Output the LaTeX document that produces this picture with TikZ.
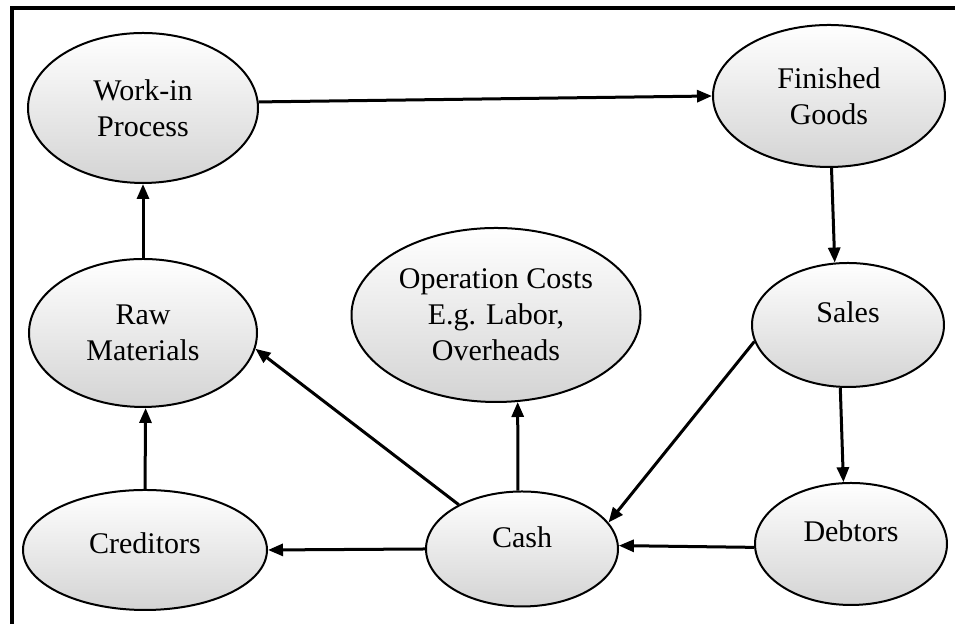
\documentclass[tikz,border=0pt]{standalone}
\usepackage{fontspec}
\setmainfont{Liberation Serif}
\usetikzlibrary{shapes,positioning,arrows.meta}

\begin{document}
\begin{tikzpicture}[
    x=0.5pt,
    y=0.5pt,
    >={Triangle[length=7.5pt,width=6pt]},
    ell/.style ={
        ellipse,
        draw=black,
        line width=1pt,
        top color=white,
        middle color=white,
        bottom color=black!17,
        inner sep=0pt,
        align=center,
        font=\fontsize{15}{18}\selectfont
    },
    lift/.style ={
        text height=10pt,
        text depth=#1
    },
    flow/.style ={
        ->,
        line width=1.5pt
    }
    ]
    \useasboundingbox (0,0) rectangle (955,624);
    \draw[line width=2.25pt] (12,0) -- (12,616) -- (955,616);

    \node[ell, minimum width=115pt, minimum height=75pt] (wip) at (143,516) {Work-in\\Process};
    \node[ell, minimum width=116pt, minimum height=71pt] (fg) at (829,528) {Finished\\Goods};
    \node[ell, minimum width=114pt, minimum height=74pt] (raw) at (143,291) {Raw\\Materials};
    \node[ell, minimum width=144.5pt, minimum height=87pt] (opc) at (496,309) {Operation Costs\\E.g. Labor,\\Overheads};
    \node[ell, lift=12pt, minimum width=96pt, minimum height=62pt] (sales) at (848,299) {Sales};
    \node[ell, lift=12pt, minimum width=96pt, minimum height=61pt] (debt) at (851,80) {Debtors};
    \node[ell, lift=11pt, minimum width=96pt, minimum height=57.5pt] (cash) at (522,75) {Cash};
    \node[ell, lift=6pt, minimum width=122pt, minimum height=60pt] (cred) at (145,74) {Creditors};

    \path[flow] (wip.3) edge (fg.180);
    \path[flow] (fg.-88) edge (sales.102);
    \path[flow] (sales.-97) edge (debt.97);
    \path[flow] (debt.182) edge (cash.2);
    \path[flow] (sales.190) edge (cash.17);
    \path[flow] (cash.180) edge (cred.0);
    \path[flow] (cash.145) edge (raw.-8);
    \path[flow] (cash.94) edge (opc.-76);
    \path[flow] (cred.north) edge (raw.-88);
    \path[flow] (raw.north) edge (wip.south);
\end{tikzpicture}
\end{document}
